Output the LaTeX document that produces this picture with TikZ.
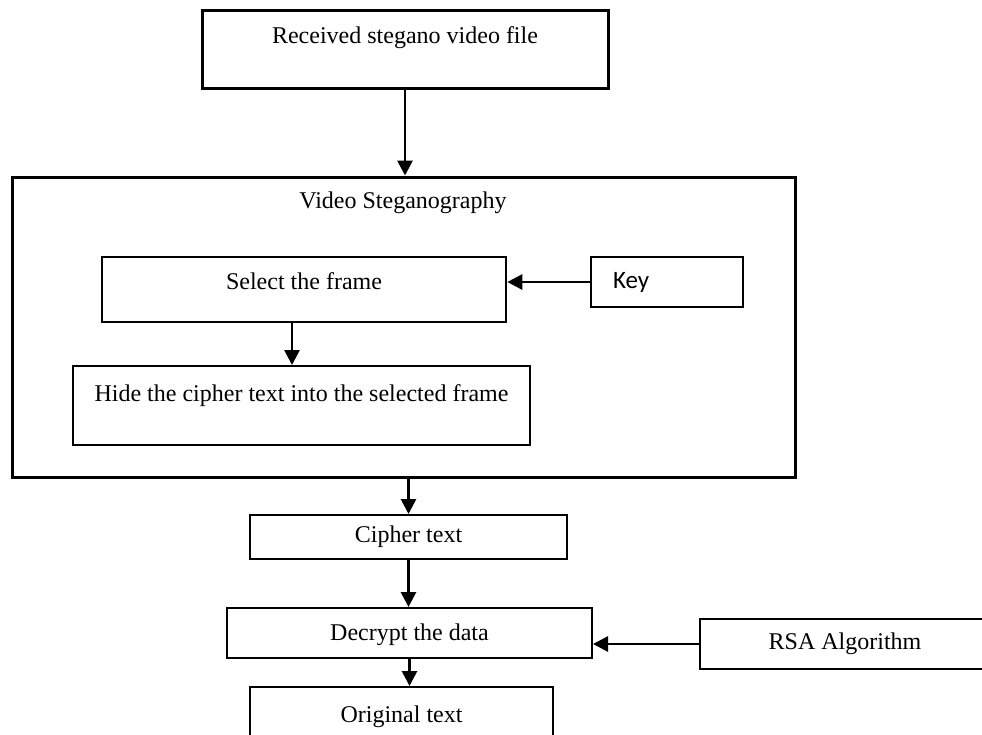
\documentclass[tikz,border=0pt]{standalone}
\usepackage{fontspec}
\setmainfont{Liberation Serif}
\newfontfamily\keyfont{Carlito}
\usetikzlibrary{arrows.meta}

\begin{document}
\begin{tikzpicture}[
    x=0.5pt, y=-0.5pt,
    font=\fontsize{12}{14.4}\selectfont,
    box/.style   = {draw=black, line width=1pt, inner sep=0pt, align=center},
    heavy/.style = {box, line width=1.5pt},
    flow/.style  = {-{Triangle[length=7.5pt, width=7.5pt]}, draw=black, line width=1.4pt},
  ]
  \useasboundingbox (0,0) rectangle (982,735);
  \clip (0,0) rectangle (982,735);

  \node[heavy, minimum width=203pt, minimum height=39pt, text height=9pt, text depth=15pt] (recv)
      at (405,49) {Received stegano video file};

  % steganography block
  \node[heavy, minimum width=391.5pt, minimum height=150pt] (vs) at (403.5,327) {};
  \node (vstitle) at (403,203) {Video Steganography};
  \node[box, line width=1.3pt, minimum width=202pt, minimum height=32.5pt, text height=9pt, text depth=9pt] (select)
      at (304,289.5) {Select the frame};
  \node[box, minimum width=76pt, minimum height=25pt, text width=54pt, align=left, inner xsep=11pt,
        font=\fontsize{12.5}{15}\keyfont] (key)
      at (667,282) {Key};
  \node[box, minimum width=228.5pt, minimum height=39.5pt, text height=9pt, text depth=13.5pt] (hide)
      at (301.5,405.5) {Hide the cipher text into the selected frame};

  % decryption
  \node[box, minimum width=158.5pt, minimum height=22pt] (cipher) at (408.5,537) {Cipher text};
  \node[box, minimum width=182.5pt, minimum height=25pt, text height=9pt, text depth=2pt] (decrypt)
      at (409.5,633) {Decrypt the data};
  \node[box, minimum width=151.5pt, minimum height=30pt] (orig) at (401.5,717) {Original text};
  \node[box, minimum width=145pt, minimum height=25pt] (rsa) at (845,644) {RSA Algorithm};

  \draw[flow] (recv.south) -- (recv.south |- vs.north);
  \draw[flow] (key.west) -- (key.west -| select.east);
  \draw[flow] ([xshift=-6pt]select.south) -- ([xshift=-6pt]select.south |- hide.north);
  \draw[flow] (cipher.north |- vs.south) -- (cipher.north);
  \foreach \a/\b in {cipher/decrypt, decrypt/orig}
    \draw[flow] (\a.south) -- (\a.south |- \b.north);
  \draw[flow] (rsa.west) -- (rsa.west -| decrypt.east);
\end{tikzpicture}
\end{document}
